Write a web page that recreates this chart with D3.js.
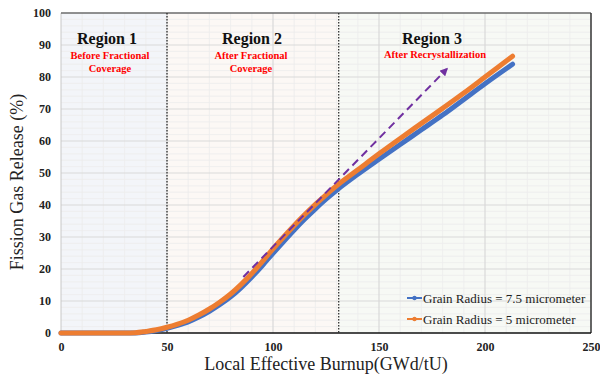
<!DOCTYPE html>
<html>
<head>
<meta charset="utf-8">
<script src="https://cdn.jsdelivr.net/npm/d3@7"></script>
<style>
  html, body { margin: 0; padding: 0; background: #ffffff; }
  svg { display: block; }
  text { font-family: "Liberation Serif", "Times New Roman", serif; }
</style>
</head>
<body>
<div id="chart"></div>
<script>
// Local effective burnup (GWd/tU) sample points
const burnup = [0, 10, 20, 30, 35, 40, 45, 50, 55, 60, 65, 70, 75, 80, 85, 90, 95, 100,
                105, 110, 115, 120, 125, 130, 140, 150, 160, 170, 180, 190, 200, 213];
// Fission gas release (%) for grain radius 7.5 micrometer
const fgrLarge = [0, 0, 0, 0, 0, 0.3, 0.8, 1.5, 2.4, 3.5, 5.0, 6.8, 8.9, 11.3, 14.2, 17.5, 21.1, 24.9,
                  28.6, 32.2, 35.6, 38.8, 41.8, 44.6, 49.6, 54.3, 58.9, 63.5, 68.1, 73.0, 77.9, 84.0];
// Fission gas release (%) for grain radius 5 micrometer
const fgrSmall = [0, 0, 0, 0, 0.1, 0.5, 1.0, 1.8, 2.8, 4.0, 5.6, 7.5, 9.7, 12.2, 15.2, 18.6, 22.4, 26.3,
                  30.0, 33.6, 37.0, 40.2, 43.2, 46.0, 51.0, 56.0, 60.8, 65.5, 70.2, 75.0, 80.0, 86.5];
const seriesNames = ["Grain Radius = 7.5 micrometer", "Grain Radius = 5 micrometer"];

// Trend arrow (start, end) in data units
const trendX = [86, 182];
const trendY = [17.5, 82.5];

// Region boundaries and annotations
const regionEdges = [0, 50, 131, 250];
const regionTitles = ["Region 1", "Region 2", "Region 3"];
const regionNotes = [["Before Fractional", "Coverage"], ["After Fractional", "Coverage"], ["After Recrystallization"]];

const xTicks = [0, 50, 100, 150, 200, 250];
const yTicks = [0, 10, 20, 30, 40, 50, 60, 70, 80, 90, 100];

const W = 600, H = 383;
const margin = { top: 13, right: 9, bottom: 50, left: 61 };
const iw = W - margin.left - margin.right;
const ih = H - margin.top - margin.bottom;

const svg = d3.select("#chart").append("svg").attr("width", W).attr("height", H);
const g = svg.append("g").attr("transform", `translate(${margin.left},${margin.top})`);

const x = d3.scaleLinear().domain([0, 250]).range([0, iw]);
const y = d3.scaleLinear().domain([0, 100]).range([ih, 0]);

// Region shading
const regionFills = ["#f3f5f9", "#fcf8f5", "#f7f9f5"];
g.selectAll("rect.region").data(regionTitles).join("rect")
  .attr("class", "region")
  .attr("x", (d, i) => x(regionEdges[i]))
  .attr("width", (d, i) => x(regionEdges[i + 1]) - x(regionEdges[i]))
  .attr("y", 0).attr("height", ih)
  .attr("fill", (d, i) => regionFills[i]);

// Grid: minor then major
const minorY = d3.range(0, 101, 2).filter(v => v % 10 !== 0);
const minorX = d3.range(0, 251, 10).filter(v => v % 50 !== 0);
g.append("g").selectAll("line").data(minorY).join("line")
  .attr("x1", 0).attr("x2", iw).attr("y1", d => y(d)).attr("y2", d => y(d))
  .attr("stroke", "#ececec").attr("stroke-width", 0.8);
g.append("g").selectAll("line").data(minorX).join("line")
  .attr("y1", 0).attr("y2", ih).attr("x1", d => x(d)).attr("x2", d => x(d))
  .attr("stroke", "#ececec").attr("stroke-width", 0.8);
g.append("g").selectAll("line").data(yTicks.slice(1, -1)).join("line")
  .attr("x1", 0).attr("x2", iw).attr("y1", d => y(d)).attr("y2", d => y(d))
  .attr("stroke", "#d9d9d9").attr("stroke-width", 1.2);
g.append("g").selectAll("line").data(xTicks.slice(1, -1)).join("line")
  .attr("y1", 0).attr("y2", ih).attr("x1", d => x(d)).attr("x2", d => x(d))
  .attr("stroke", "#d9d9d9").attr("stroke-width", 1.2);

// Frame
g.append("line").attr("x1", 0).attr("x2", 0).attr("y1", 0).attr("y2", ih)
  .attr("stroke", "#c8c8c8").attr("stroke-width", 1);
g.append("line").attr("x1", 0).attr("x2", iw).attr("y1", 0).attr("y2", 0)
  .attr("stroke", "#6b6b6b").attr("stroke-width", 1.5);
g.append("line").attr("x1", iw).attr("x2", iw).attr("y1", 0).attr("y2", ih)
  .attr("stroke", "#333").attr("stroke-width", 1.5);
g.append("line").attr("x1", 0).attr("x2", iw).attr("y1", ih).attr("y2", ih)
  .attr("stroke", "#111").attr("stroke-width", 1.5);

// Region boundaries
g.append("g").selectAll("line").data(regionEdges.slice(1, -1)).join("line")
  .attr("x1", d => x(d)).attr("x2", d => x(d)).attr("y1", 0).attr("y2", ih)
  .attr("stroke", "#222").attr("stroke-width", 1.2).attr("stroke-dasharray", "1.5,1.5");

// Axes (labels only)
const xAxis = d3.axisBottom(x).tickValues(xTicks).tickSize(0).tickPadding(9);
const yAxis = d3.axisLeft(y).tickValues(yTicks).tickSize(0).tickPadding(10);
const gx = g.append("g").attr("transform", `translate(0,${ih})`).call(xAxis);
const gy = g.append("g").call(yAxis);
[gx, gy].forEach(a => {
  a.select(".domain").remove();
  a.selectAll("text").attr("font-family", "Liberation Serif, Times New Roman, serif")
    .attr("font-size", 12).attr("font-weight", "bold").attr("fill", "#222");
});

// Axis titles
svg.append("text").attr("x", margin.left + iw / 2).attr("y", 370)
  .attr("text-anchor", "middle").attr("font-size", 18).attr("fill", "#222")
  .text("Local Effective Burnup(GWd/tU)");
svg.append("text").attr("transform", "translate(23,182) rotate(-90)")
  .attr("text-anchor", "middle").attr("font-size", 18).attr("fill", "#222")
  .text("Fission Gas Release (%)");

// Curves
const colors = ["#4472c4", "#ed7d31"];
const line = d3.line().x(d => x(d[0])).y(d => y(d[1])).curve(d3.curveMonotoneX);
[fgrLarge, fgrSmall].forEach((vals, i) => {
  g.append("path").datum(burnup.map((b, k) => [b, vals[k]]))
    .attr("d", line).attr("fill", "none")
    .attr("stroke", colors[i]).attr("stroke-width", 5)
    .attr("stroke-linecap", "round").attr("stroke-linejoin", "round");
});

// Trend arrow
svg.append("defs").append("marker").attr("id", "arrow")
  .attr("viewBox", "0 0 10 10").attr("refX", 8).attr("refY", 5)
  .attr("markerWidth", 4).attr("markerHeight", 4).attr("orient", "auto")
  .append("path").attr("d", "M0,0 L10,5 L0,10 Z").attr("fill", "#7030a0");
g.append("line")
  .attr("x1", x(trendX[0])).attr("y1", y(trendY[0]))
  .attr("x2", x(trendX[1])).attr("y2", y(trendY[1]))
  .attr("stroke", "#7030a0").attr("stroke-width", 2)
  .attr("stroke-dasharray", "8,5").attr("marker-end", "url(#arrow)");

// Region labels
const titleX = [107, 252, 432];
const noteX = [110, 251, 435];
regionTitles.forEach((t, i) => {
  svg.append("text").attr("x", titleX[i]).attr("y", 44).attr("text-anchor", "middle")
    .attr("font-size", 16).attr("font-weight", "bold").attr("fill", "#111").text(t);
  regionNotes[i].forEach((n, j) => {
    svg.append("text").attr("x", noteX[i]).attr("y", (i === 2 ? 58 : 59) + j * 13)
      .attr("text-anchor", "middle").attr("font-size", 10.5).attr("font-weight", "bold")
      .attr("fill", "#ff0000").text(n);
  });
});

// Legend
const legendY = [298, 319];
seriesNames.forEach((name, i) => {
  const lg = svg.append("g").attr("transform", `translate(407,${legendY[i]})`);
  lg.append("line").attr("x1", 0).attr("x2", 15).attr("y1", 0).attr("y2", 0)
    .attr("stroke", colors[i]).attr("stroke-width", 2);
  lg.append("circle").attr("cx", 7.5).attr("cy", 0).attr("r", 2.2).attr("fill", colors[i]);
  lg.append("text").attr("x", 16).attr("y", 4.5).attr("font-size", 13).attr("fill", "#222").text(name);
});
</script>
</body>
</html>
